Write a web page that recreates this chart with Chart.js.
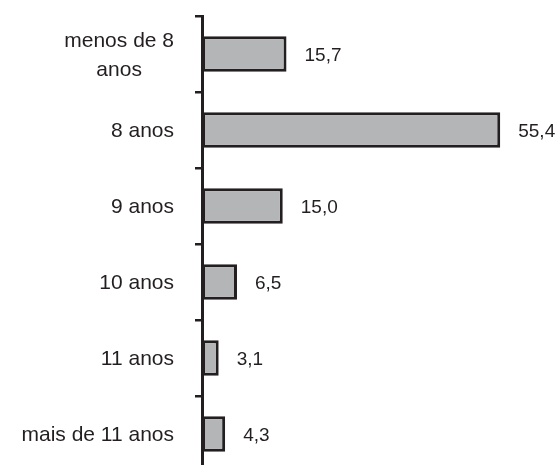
<!DOCTYPE html>
<html>
<head>
<meta charset="utf-8">
<script src="https://cdn.jsdelivr.net/npm/chart.js@4"></script>
<style>
  html, body { margin: 0; padding: 0; background: #fff; overflow: hidden; }
  #wrap { width: 560px; height: 480px; }
</style>
</head>
<body>
<div id="wrap"><canvas id="chart" width="560" height="480"></canvas></div>
<script>
// Categories and values
const categories = [['menos de 8', 'anos'], '8 anos', '9 anos', '10 anos', '11 anos', 'mais de 11 anos'];
const values = [15.7, 55.4, 15.0, 6.5, 3.1, 4.3];

const inkColor = '#231f20';
const fontFamily = '"Liberation Sans", Arial, sans-serif';

// Draws the category labels (multi-line centred) to the left of the axis
const categoryLabels = {
    id: 'categoryLabels',
    afterDraw: function(chart) {
        const ctx = chart.ctx;
        const yScale = chart.scales.y;
        const rightEdge = 174;
        const lineHeight = 29;
        ctx.save();
        ctx.fillStyle = inkColor;
        ctx.font = '21px ' + fontFamily;
        ctx.textBaseline = 'alphabetic';
        categories.forEach(function(label, i) {
            const lines = Array.isArray(label) ? label : [label];
            const y = yScale.getPixelForTick(i);
            const widths = lines.map(function(l) { return ctx.measureText(l).width; });
            const maxW = Math.max.apply(null, widths);
            lines.forEach(function(line, j) {
                const baseline = y + 7 + (j - (lines.length - 1) / 2) * lineHeight;
                const x = rightEdge - maxW / 2 - widths[j] / 2;
                ctx.textAlign = 'left';
                ctx.fillText(line, x, baseline);
            });
        });
        ctx.restore();
    }
};

// Draws the value next to each bar
const valueLabels = {
    id: 'valueLabels',
    afterDatasetsDraw: function(chart) {
        const ctx = chart.ctx;
        const meta = chart.getDatasetMeta(0);
        ctx.save();
        ctx.fillStyle = inkColor;
        ctx.font = '19px ' + fontFamily;
        ctx.textAlign = 'left';
        ctx.textBaseline = 'alphabetic';
        meta.data.forEach(function(bar, i) {
            const text = values[i].toFixed(1).replace('.', ',');
            ctx.fillText(text, bar.x + 18, bar.y + 7);
        });
        ctx.restore();
    }
};

new Chart(document.getElementById('chart'), {
    type: 'bar',
    data: {
        labels: categories,
        datasets: [{
            data: values,
            backgroundColor: '#b4b5b7',
            borderColor: inkColor,
            borderWidth: 3,
            borderSkipped: false,
            barPercentage: 0.47,
            categoryPercentage: 1
        }]
    },
    options: {
        indexAxis: 'y',
        responsive: false,
        animation: false,
        layout: {
            padding: { top: 16, right: 35, bottom: 8, left: 0 }
        },
        plugins: {
            legend: { display: false },
            tooltip: { enabled: false }
        },
        scales: {
            x: {
                display: false,
                min: 0,
                max: 60
            },
            y: {
                offset: true,
                afterFit: function(scale) { scale.width = 202; },
                border: { display: true, color: inkColor, width: 3 },
                grid: {
                    offset: true,
                    drawOnChartArea: false,
                    drawTicks: true,
                    tickLength: 7,
                    color: inkColor,
                    lineWidth: 2.5
                },
                ticks: { display: false }
            }
        }
    },
    plugins: [categoryLabels, valueLabels]
});
</script>
</body>
</html>
